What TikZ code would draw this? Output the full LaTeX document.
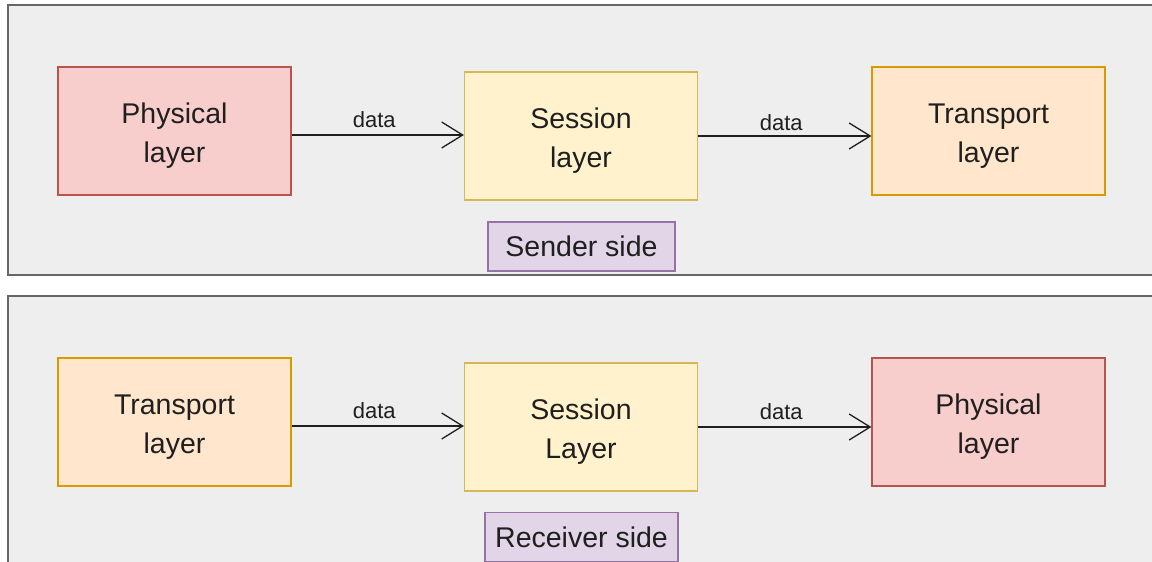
\documentclass[tikz,border=0pt]{standalone}
\usepackage{fontspec}
\setmainfont{Liberation Sans}
\usetikzlibrary{arrows.meta}
\definecolor{panelfill}{HTML}{EEEEEE}
\definecolor{panelline}{HTML}{666666}
\definecolor{redfill}{HTML}{F8CECC}
\definecolor{redline}{HTML}{B85450}
\definecolor{yelfill}{HTML}{FFF2CC}
\definecolor{yelline}{HTML}{D6B656}
\definecolor{orfill}{HTML}{FFE6CC}
\definecolor{orline}{HTML}{D79B00}
\definecolor{purfill}{HTML}{E1D5E7}
\definecolor{purline}{HTML}{9673A6}
\tikzset{
  layerbox/.style={draw, line width=1.2pt, minimum width=233pt, minimum height=128pt, inner sep=0pt},
  boxtxt/.style={align=center, inner sep=0pt, font=\fontsize{28.5}{39}\selectfont, text=black!88, yshift=-5pt},
  redbox/.style={layerbox, fill=redfill, draw=redline},
  yelbox/.style={layerbox, fill=yelfill, draw=yelline},
  orbox/.style={layerbox, fill=orfill, draw=orline},
  sidebox/.style={draw=purline, fill=purfill, line width=1.2pt, minimum height=49pt, inner sep=0pt, font=\fontsize{28.5}{34}\selectfont, text=black!88},
  panel/.style={fill=panelfill, draw=panelline, line width=1.6pt},
  flow/.style={line width=1.3pt, draw=black!88, -{Straight Barb[length=21pt,width=26pt,line width=1.3pt]}},
  datalbl/.style={font=\fontsize{22}{24}\selectfont, text=black!88, inner sep=0pt, anchor=base, yshift=8pt, pos=0.48}
}
\begin{document}
\begin{tikzpicture}[x=1pt,y=-1pt]
\useasboundingbox (0,0) rectangle (1152,562);
\clip (0,0) rectangle (1152,562);
\fill[white] (0,0) rectangle (1152,562);
\draw[panel] (8,5) rectangle (1170,275);
\draw[panel] (8,296) rectangle (1170,580);
% sender row
\node[redbox, label={[boxtxt]center:{Physical\\layer}}] (p1) at (174.5,131) {};
\node[yelbox, label={[boxtxt]center:{Session\\layer}}] (s1) at (581,136) {};
\node[orbox, label={[boxtxt]center:{Transport\\layer}}] (t1) at (988.5,131) {};
\node[sidebox, minimum width=187pt] (snd) at (581.5,246.5) {Sender side};
\draw[flow] (p1.east |- 0,135) -- node[datalbl] {data} (s1.west |- 0,135);
\draw[flow] (s1.east) -- node[datalbl, yshift=-2pt] {data} (t1.west |- s1.east);
% receiver row
\node[orbox, label={[boxtxt]center:{Transport\\layer}}] (t2) at (174.5,422) {};
\node[yelbox, label={[boxtxt]center:{Session\\Layer}}] (s2) at (581,427) {};
\node[redbox, label={[boxtxt]center:{Physical\\layer}}] (p2) at (988.5,422) {};
\node[sidebox, minimum width=193pt] (rcv) at (581.5,537) {Receiver side};
\draw[flow] (t2.east |- 0,426) -- node[datalbl] {data} (s2.west |- 0,426);
\draw[flow] (s2.east) -- node[datalbl] {data} (p2.west |- s2.east);
\end{tikzpicture}
\end{document}
